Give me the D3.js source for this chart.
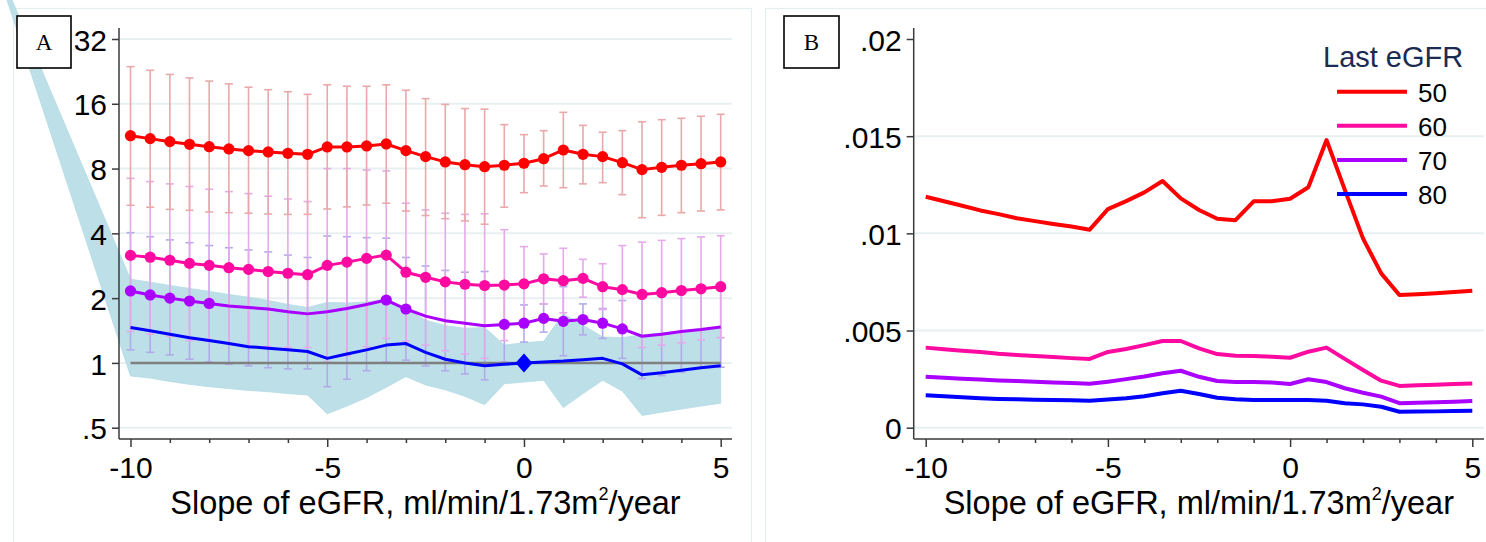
<!DOCTYPE html>
<html><head><meta charset="utf-8">
<script src="https://cdn.jsdelivr.net/npm/d3@7"></script>
<style>
body{margin:0;background:#fff}
svg{display:block}
text{font-family:"Liberation Sans",Arial,Helvetica,sans-serif}
text.serif{font-family:"Liberation Serif","Times New Roman",serif}
</style>
</head><body>
<svg id="c" width="1486" height="542"></svg>
<script>
// ---------- DATA ----------
const slopes = [-10,-9.5,-9,-8.5,-8,-7.5,-7,-6.5,-6,-5.5,-5,-4.5,-4,-3.5,-3,-2.5,-2,-1.5,-1,-0.5,0,0.5,1,1.5,2,2.5,3,3.5,4,4.5,5];

// Panel A: hazard ratios (log2 scale) by last eGFR
const hr50   = [11.37,11.02,10.67,10.37,10.11,9.87,9.69,9.56,9.42,9.32,10.08,10.08,10.19,10.41,9.69,9.09,8.59,8.34,8.16,8.29,8.47,8.89,9.76,9.32,9.09,8.52,7.91,8.11,8.29,8.43,8.59];
const hr50lo = [5.40,5.29,5.17,5.12,5.03,4.99,4.96,4.92,4.90,4.90,5.19,5.31,5.42,5.52,5.08,4.84,4.68,4.57,4.41,5.29,6.18,6.64,6.52,6.79,6.88,6.05,4.73,4.85,4.99,5.08,5.14];
const hr50hi = [23.8,22.9,21.9,21.1,20.4,19.8,19.1,18.6,18.2,17.7,19.6,19.3,19.3,19.6,18.5,16.9,15.9,15.2,15.1,12.8,11.5,12.0,14.6,12.7,11.8,12.0,13.2,13.5,13.7,14.0,14.3];

const hr60   = [3.16,3.10,3.00,2.90,2.84,2.77,2.72,2.66,2.61,2.57,2.84,2.94,3.06,3.17,2.64,2.50,2.38,2.32,2.29,2.30,2.33,2.46,2.41,2.47,2.26,2.19,2.08,2.12,2.17,2.21,2.26];
const hr60lo = [1.40,1.36,1.33,1.27,1.26,1.23,1.19,1.19,1.18,1.18,1.01,1.08,1.19,1.30,1.26,1.21,1.14,1.10,1.05,1.27,1.56,1.88,1.71,2.02,1.77,1.37,1.18,1.21,1.24,1.28,1.31];
const hr60hi = [7.21,6.96,6.79,6.60,6.41,6.25,6.12,5.95,5.78,5.62,8.00,8.00,7.88,7.80,5.52,5.14,4.96,4.90,4.93,4.16,3.47,3.21,3.41,3.03,2.89,3.51,3.64,3.71,3.78,3.85,3.90];

const hr70   = [2.16,2.07,2.00,1.94,1.89,1.84,1.81,1.78,1.73,1.69,1.73,1.79,1.87,1.96,1.78,1.65,1.57,1.53,1.49,1.51,1.53,1.61,1.56,1.59,1.53,1.44,1.33,1.36,1.40,1.43,1.47];
const hr70lo = [1.15,1.12,1.09,1.04,1.01,0.986,0.97,0.95,0.938,0.938,0.776,0.84,0.92,1.01,1.03,0.968,0.92,0.889,0.834,1.01,1.25,1.39,1.08,1.35,1.30,1.05,0.846,0.873,0.905,0.95,0.955];
const hr70hi = [4.03,3.86,3.73,3.62,3.51,3.43,3.35,3.28,3.17,3.09,3.89,3.86,3.82,3.80,3.09,2.82,2.69,2.64,2.66,2.26,1.86,1.88,2.26,1.88,1.79,1.95,2.09,2.12,2.17,2.15,2.26];
const hr70marked = [1,1,1,1,1,0,0,0,0,0,0,0,0,1,1,0,0,0,0,1,1,1,1,1,1,1,0,0,0,0,0];

const hr80   = [1.46,1.41,1.36,1.31,1.27,1.23,1.19,1.17,1.15,1.13,1.05,1.10,1.15,1.21,1.23,1.12,1.04,1.00,0.97,0.985,1.00,1.01,1.02,1.035,1.05,0.99,0.88,0.90,0.925,0.95,0.97];
const bandSlopes = [-13.5,-10,-9.5,-9,-8.5,-8,-7.5,-7,-6.5,-6,-5.5,-5,-4.5,-4,-3.5,-3,-2.5,-2,-1.5,-1,-0.5,0,0.5,1,1.5,2,2.5,3,3.5,4,4.5,5];
const hr80lo = [77,0.87,0.85,0.82,0.795,0.775,0.76,0.745,0.735,0.72,0.71,0.58,0.63,0.69,0.77,0.864,0.79,0.75,0.70,0.64,0.80,0.815,0.83,0.62,0.72,0.83,0.74,0.57,0.59,0.61,0.63,0.65];
const hr80hi = [79,2.45,2.37,2.29,2.22,2.15,2.08,2.02,1.95,1.87,1.81,1.91,1.90,1.92,1.98,1.79,1.58,1.49,1.45,1.46,1.21,1.24,1.26,1.69,1.50,1.32,1.31,1.35,1.38,1.41,1.44,1.47];
const refSlope = 0, refHR = 1;

const yTicksA = [0.5,1,2,4,8,16,32];
const yTickLabelsA = [".5","1","2","4","8","16","32"];

// Panel B: absolute risk by last eGFR
const lastEGFR = ["50","60","70","80"];
const risk50 = [0.01188,0.01165,0.01142,0.01118,0.01099,0.01078,0.01063,0.01048,0.01035,0.01019,0.01125,0.01166,0.01211,0.01269,0.0118,0.0112,0.01075,0.01068,0.01165,0.01165,0.01178,0.01237,0.0148,0.01225,0.00974,0.00794,0.00683,0.00687,0.00692,0.00698,0.00705];
const risk60 = [0.00412,0.00404,0.00396,0.00389,0.0038,0.00374,0.00369,0.00364,0.00358,0.00354,0.0039,0.00405,0.00425,0.00446,0.00446,0.00408,0.00379,0.0037,0.00369,0.00365,0.0036,0.00391,0.00412,0.00354,0.00297,0.00242,0.00215,0.00218,0.00221,0.00225,0.00228];
const risk70 = [0.00262,0.00257,0.00252,0.00248,0.00243,0.0024,0.00236,0.00233,0.0023,0.00226,0.00237,0.0025,0.00263,0.0028,0.00293,0.00262,0.0024,0.00235,0.00235,0.00232,0.00225,0.00249,0.00235,0.00203,0.0018,0.0016,0.00126,0.00129,0.00131,0.00134,0.00137];
const risk80 = [0.00167,0.00162,0.00157,0.00152,0.00148,0.00146,0.00144,0.00142,0.00141,0.00139,0.00145,0.00152,0.00162,0.00177,0.0019,0.00173,0.00154,0.00146,0.00142,0.00142,0.00142,0.00142,0.00139,0.00126,0.0012,0.00108,0.00082,0.00083,0.00084,0.00086,0.00087];
const yTicksB = [0,0.005,0.01,0.015,0.02];
const yTickLabelsB = ["0",".005",".01",".015",".02"];
const gridB = [0,0.005,0.01,0.015];

const xMajor = [-10,-5,0,5];
const xMinor = [-9,-8,-7,-6,-4,-3,-2,-1,1,2,3,4];
const xTitleMain = "Slope of eGFR, ml/min/1.73m";
const xTitleSup = "2";
const xTitleEnd = "/year";

const colors = {c50:"#ff0000", c60:"#ff0aa0", c70:"#aa00ff", c80:"#0000ff"};
const ciColors = {c50:"#e9a8a9", c60:"#e6a9ea", c70:"#b3aaea"};

// ---------- DRAW ----------
const svg = d3.select("#c");
const axisColor = "#3a3a3a";
const FS = 30;
const TFS = 32.5;

// panel frames
svg.append("rect").attr("x",13.5).attr("y",8.5).attr("width",738).attr("height",545)
  .attr("fill","#fff").attr("stroke","#e4edf0").attr("stroke-width",1.2);
svg.append("rect").attr("x",765.5).attr("y",8.5).attr("width",735).attr("height",545)
  .attr("fill","#fff").attr("stroke","#e4edf0").attr("stroke-width",1.2);

function xAxisDraw(g, x, left, right, bottom){
  g.append("line").attr("x1",left).attr("x2",right).attr("y1",bottom).attr("y2",bottom)
    .attr("stroke",axisColor).attr("stroke-width",1.5);
  const major = g.append("g").attr("transform",`translate(0,${bottom})`)
    .call(d3.axisBottom(x).tickValues(xMajor).tickSize(8).tickSizeOuter(0).tickFormat(d=>d));
  major.select(".domain").remove();
  major.selectAll("line").attr("stroke",axisColor).attr("stroke-width",1.5);
  major.selectAll("text").attr("y",39).attr("dy",0).attr("font-size",FS).attr("fill","#000")
    .attr("font-family",'"Liberation Sans",Arial,sans-serif');
  const minor = g.append("g").attr("transform",`translate(0,${bottom})`)
    .call(d3.axisBottom(x).tickValues(xMinor).tickSize(4).tickSizeOuter(0).tickFormat(""));
  minor.select(".domain").remove();
  minor.selectAll("line").attr("stroke",axisColor).attr("stroke-width",1.5);
  const cx = (left+right)/2;
  const t = g.append("text").attr("x",cx).attr("y",514).attr("text-anchor","middle")
    .attr("font-size",TFS).attr("fill","#000");
  t.append("tspan").text(xTitleMain);
  t.append("tspan").attr("font-size",18).attr("dy",-14).text(xTitleSup);
  t.append("tspan").attr("dy",14).text(xTitleEnd);
}
function yAxisDraw(g, y, ticks, labels, left, top, bottom){
  g.append("line").attr("x1",left).attr("x2",left).attr("y1",top).attr("y2",bottom)
    .attr("stroke",axisColor).attr("stroke-width",1.5);
  const ax = g.append("g").attr("transform",`translate(${left},0)`)
    .call(d3.axisLeft(y).tickValues(ticks).tickSize(7).tickPadding(5).tickSizeOuter(0)
      .tickFormat((d,i)=>labels[i]));
  ax.select(".domain").remove();
  ax.selectAll("line").attr("stroke",axisColor).attr("stroke-width",1.5);
  ax.selectAll("text").attr("dy","0.37em").attr("font-size",FS).attr("fill","#000")
    .attr("font-family",'"Liberation Sans",Arial,sans-serif');
}
function labelBox(x,y,w,h,txt){
  svg.append("rect").attr("x",x).attr("y",y).attr("width",w).attr("height",h)
    .attr("fill","#fff").attr("stroke","#000").attr("stroke-width",1.6);
  svg.append("text").attr("class","serif").attr("x",x+w/2).attr("y",y+h/2+8).attr("text-anchor","middle")
    .attr("font-size",23).text(txt);
}

// ===== Panel A =====
const A = {left:119, right:732, top:28, bottom:439};
const xA = d3.scaleLinear().domain([-10,5]).range([130.5,720.7]);
const yA = d3.scaleLog().base(2).domain([0.5,32]).range([427.7,39]);
const gA = svg.append("g");

gA.selectAll("line.grid").data(yTicksA).join("line")
  .attr("x1",A.left).attr("x2",A.right).attr("y1",d=>yA(d)).attr("y2",d=>yA(d))
  .attr("stroke","#e8eff1").attr("stroke-width",2);

// CI band for eGFR 80
const band = bandSlopes.map((s,i)=>({x:s,lo:hr80lo[i],hi:hr80hi[i]}));
gA.append("path").datum(band)
  .attr("d",d3.area().x(d=>xA(d.x)).y0(d=>yA(d.lo)).y1(d=>yA(d.hi)))
  .attr("fill","#bcdfe8").attr("stroke","#b4dae4").attr("stroke-width",0.8);

// error bars
function errBars(lo,hi,col){
  const data = slopes.map((s,i)=>({x:s,lo:lo[i],hi:hi[i]}));
  const g = gA.append("g").attr("stroke",col).attr("stroke-width",1.6).attr("fill","none");
  g.selectAll("line.v").data(data).join("line")
    .attr("x1",d=>xA(d.x)).attr("x2",d=>xA(d.x)).attr("y1",d=>yA(d.lo)).attr("y2",d=>yA(d.hi));
  g.selectAll("line.l").data(data).join("line")
    .attr("x1",d=>xA(d.x)-4).attr("x2",d=>xA(d.x)+4).attr("y1",d=>yA(d.lo)).attr("y2",d=>yA(d.lo));
  g.selectAll("line.h").data(data).join("line")
    .attr("x1",d=>xA(d.x)-4).attr("x2",d=>xA(d.x)+4).attr("y1",d=>yA(d.hi)).attr("y2",d=>yA(d.hi));
}
errBars(hr70lo,hr70hi,ciColors.c70);
errBars(hr60lo,hr60hi,ciColors.c60);
errBars(hr50lo,hr50hi,ciColors.c50);

// reference line at HR=1
gA.append("line").attr("x1",xA(-10)).attr("x2",xA(5)).attr("y1",yA(1)).attr("y2",yA(1))
  .attr("stroke","#7f7f7f").attr("stroke-width",2.5);

const lineA = d3.line().x(d=>xA(d.x)).y(d=>yA(d.y));
function seriesA(vals,col,markFn){
  const data = slopes.map((s,i)=>({x:s,y:vals[i],i}));
  gA.append("path").datum(data).attr("d",lineA).attr("fill","none")
    .attr("stroke",col).attr("stroke-width",3).attr("stroke-linejoin","round");
  gA.selectAll(null).data(data.filter(markFn)).join("circle")
    .attr("cx",d=>xA(d.x)).attr("cy",d=>yA(d.y)).attr("r",5.6).attr("fill",col);
}
seriesA(hr80,colors.c80,()=>false);
seriesA(hr70,colors.c70,d=>hr70marked[d.i]===1);
seriesA(hr60,colors.c60,()=>true);
seriesA(hr50,colors.c50,()=>true);

// reference diamond
gA.append("path").attr("d","M0,-9.5L8.5,0L0,9.5L-8.5,0Z")
  .attr("transform",`translate(${xA(refSlope)},${yA(refHR)})`).attr("fill",colors.c80);

yAxisDraw(gA,yA,yTicksA,yTickLabelsA,A.left,A.top,A.bottom);
xAxisDraw(gA,xA,A.left,A.right,A.bottom);
labelBox(17,16,54,52,"A");

// ===== Panel B =====
const B = {left:913.7, right:1484, top:28, bottom:439};
const xB = d3.scaleLinear().domain([-10,5]).range([925.7,1472.3]);
const yB = d3.scaleLinear().domain([0,0.02]).range([427.7,39]);
const gB = svg.append("g");
gB.selectAll("line.grid").data(gridB).join("line")
  .attr("x1",B.left).attr("x2",B.right).attr("y1",d=>yB(d)).attr("y2",d=>yB(d))
  .attr("stroke","#e8eff1").attr("stroke-width",2);

const lineB = d3.line().x(d=>xB(d.x)).y(d=>yB(d.y));
const seriesB = [
  {name:lastEGFR[0], vals:risk50, col:colors.c50},
  {name:lastEGFR[1], vals:risk60, col:colors.c60},
  {name:lastEGFR[2], vals:risk70, col:colors.c70},
  {name:lastEGFR[3], vals:risk80, col:colors.c80}
];
seriesB.slice().reverse().forEach(s=>{
  gB.append("path").datum(slopes.map((x,i)=>({x, y:s.vals[i]})))
    .attr("d",lineB).attr("fill","none").attr("stroke",s.col).attr("stroke-width",4)
    .attr("stroke-linejoin","round");
});
yAxisDraw(gB,yB,yTicksB,yTickLabelsB,B.left,B.top,B.bottom);
xAxisDraw(gB,xB,B.left,B.right,B.bottom);
labelBox(784,16,55,52,"B");

// legend
const leg = gB.append("g");
leg.append("text").attr("x",1323).attr("y",67).attr("font-size",29).attr("fill","#1c2b52").text("Last eGFR");
seriesB.forEach((s,i)=>{
  const yy = 91.7 + i*34.1;
  leg.append("line").attr("x1",1337).attr("x2",1407).attr("y1",yy).attr("y2",yy)
    .attr("stroke",s.col).attr("stroke-width",4);
  leg.append("text").attr("x",1418).attr("y",yy+10).attr("font-size",26).attr("fill","#000").text(s.name);
});
</script>
</body></html>
